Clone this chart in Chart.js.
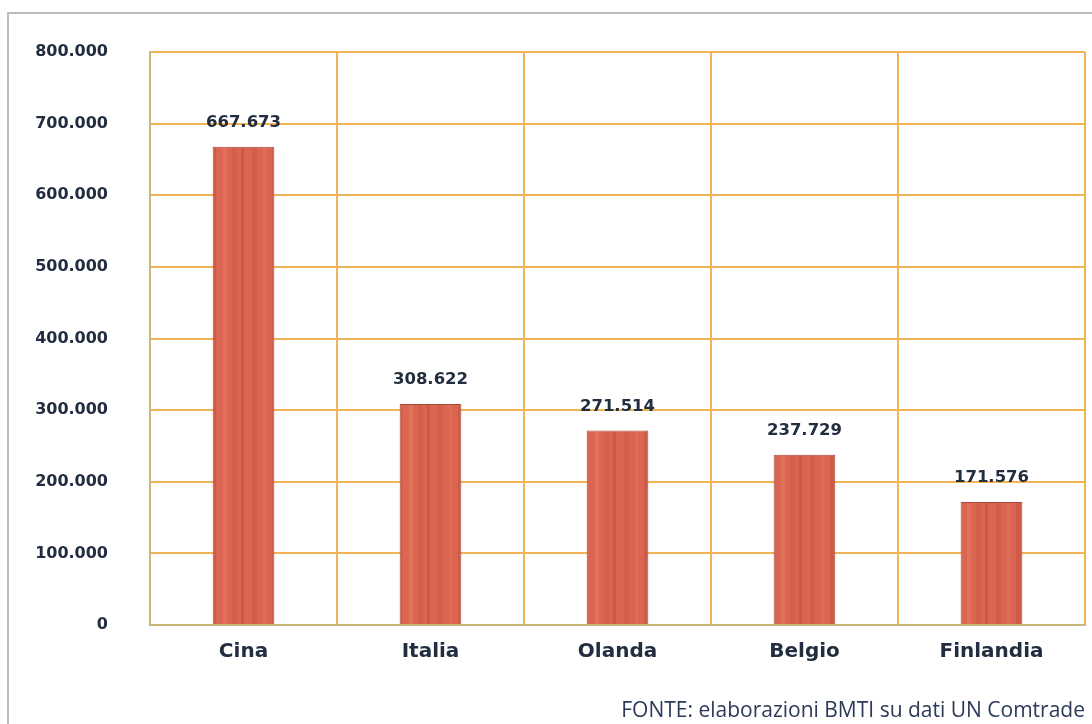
<!DOCTYPE html>
<html>
<head>
<meta charset="utf-8">
<script src="https://cdn.jsdelivr.net/npm/chart.js@4"></script>
<style>
  html, body { margin: 0; padding: 0; background: #fff; }
  #wrap { width: 1092px; height: 724px; position: relative; }
</style>
</head>
<body>
<div id="wrap"><canvas id="myChart" width="1092" height="724"></canvas></div>
<script>
const ctx = document.getElementById('myChart');

// data
const paesi = ['Cina', 'Italia', 'Olanda', 'Belgio', 'Finlandia'];
const valori = [667673, 308622, 271514, 237729, 171576];
const yMax = 800000;
const yStep = 100000;
const fonte = 'FONTE: elaborazioni BMTI su dati UN Comtrade';

function formatIt(v) {
    return v.toString().replace(/\B(?=(\d{3})+(?!\d))/g, '.');
}

const textColor = '#222d40';

// soft wood-like streaks for the bars
function woodFill() {
    const p = document.createElement('canvas');
    p.width = 62; p.height = 40;
    const g = p.getContext('2d');
    g.fillStyle = '#da6550';
    g.fillRect(0, 0, 62, 40);
    const streaks = [[4, 5, '#d25d49'], [15, 3, '#df6e59'], [24, 6, '#cf5a47'],
                     [37, 4, '#e0725c'], [46, 5, '#d45f4b'], [55, 3, '#cd5845']];
    streaks.forEach(s => { g.fillStyle = s[2]; g.fillRect(s[0], 0, s[1], 40); });
    return g.createPattern(p, 'repeat');
}

// outer frame, value labels and source note
const extras = {
    id: 'extras',
    beforeDraw(chart) {
        const c = chart.ctx;
        c.save();
        c.fillStyle = '#fff';
        c.fillRect(0, 0, chart.width, chart.height);
        c.strokeStyle = '#bdbdbd';
        c.lineWidth = 2;
        c.beginPath();
        c.moveTo(8, chart.height + 5);
        c.lineTo(8, 13);
        c.lineTo(chart.width + 5, 13);
        c.stroke();
        c.restore();
    },
    afterDatasetsDraw(chart) {
        const c = chart.ctx;
        const meta = chart.getDatasetMeta(0);
        c.save();
        c.font = 'bold 16.5px "DejaVu Sans"';
        c.fillStyle = textColor;
        c.textAlign = 'center';
        c.textBaseline = 'middle';
        meta.data.forEach((bar, i) => {
            c.fillText(formatIt(valori[i]), bar.x, bar.y - 24);
        });
        c.font = '21px "Open Sans"';
        c.fillStyle = '#2c3a58';
        c.textAlign = 'right';
        c.fillText(fonte, 1085, 711);
        c.restore();
    }
};

new Chart(ctx, {
    type: 'bar',
    data: {
        labels: paesi,
        datasets: [{
            data: valori,
            backgroundColor: woodFill(),
            borderColor: '#a94a3c',
            borderWidth: 1,
            barPercentage: 0.66,
            categoryPercentage: 0.5
        }]
    },
    options: {
        responsive: false,
        animation: false,
        layout: { padding: { left: 0, right: 7, top: 52, bottom: 0 } },
        plugins: {
            legend: { display: false },
            tooltip: { enabled: false }
        },
        scales: {
            x: {
                offset: true,
                grid: {
                    offset: true,
                    color: '#f0b455',
                    lineWidth: 2,
                    drawTicks: false
                },
                border: { color: '#c9b67a', width: 2 },
                ticks: {
                    color: textColor,
                    padding: 15,
                    font: { family: 'DejaVu Sans', size: 20, weight: 'bold' }
                },
                afterFit(scale) { scale.height = 99; }
            },
            y: {
                min: 0,
                max: yMax,
                grid: {
                    color: '#f0b455',
                    lineWidth: 2,
                    drawTicks: false
                },
                border: { color: '#c9b67a', width: 2 },
                ticks: {
                    stepSize: yStep,
                    color: textColor,
                    padding: 42,
                    font: { family: 'DejaVu Sans', size: 16, weight: 'bold' },
                    callback: v => formatIt(v)
                },
                afterFit(scale) { scale.width = 150; }
            }
        }
    },
    plugins: [extras]
});
</script>
</body>
</html>
